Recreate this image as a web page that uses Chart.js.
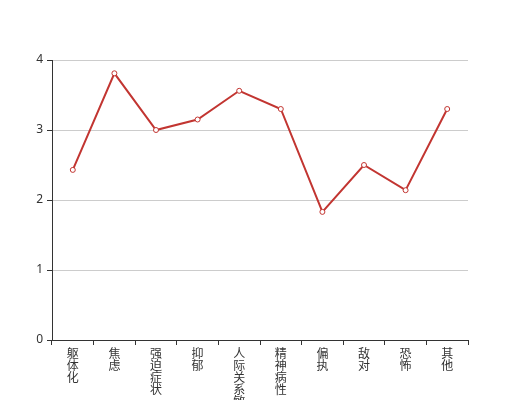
<!DOCTYPE html>
<html>
<head>
<meta charset="utf-8">
<script src="https://cdn.jsdelivr.net/npm/chart.js@4"></script>
<style>
  body { margin: 0; background: #fff; }
  #wrap { width: 520px; height: 400px; }
</style>
</head>
<body>
<div id="wrap"><canvas id="myChart"></canvas></div>
<script>
const categories = ["躯体化", "焦虑", "强迫症状", "抑郁", "人际关系敏感", "精神病性", "偏执", "敌对", "恐怖", "其他"];
const scores = [2.43, 3.81, 3.0, 3.15, 3.56, 3.30, 1.83, 2.50, 2.14, 3.30];
const yTicks = [0, 1, 2, 3, 4];

// split each name into single characters so they stack vertically
const labels = categories.map((c) => c.split(""));

const data = {
  labels: labels,
  datasets: [
    {
      data: scores,
      borderColor: "#c23531",
      borderWidth: 2,
      backgroundColor: "#fff",
      pointBackgroundColor: "#fff",
      pointBorderColor: "#c23531",
      pointBorderWidth: 1,
      pointRadius: 2.5,
      tension: 0,
    },
  ],
};

const config = {
  type: "line",
  data: data,
  options: {
    responsive: true,
    maintainAspectRatio: false,
    animation: false,
    layout: {
      padding: { top: 60, right: 52, left: 0, bottom: 0 },
    },
    scales: {
      x: {
        offset: true,
        border: { color: "#333", width: 1 },
        grid: {
          offset: true,
          drawOnChartArea: false,
          tickColor: "#333",
          tickLength: 5,
        },
        ticks: {
          color: "#333",
          padding: 2,
          maxRotation: 0,
          autoSkip: false,
          font: { size: 12, family: "'Noto Sans CJK SC', sans-serif", lineHeight: 1.0 },
        },
        afterFit: (scale) => {
          scale.height = 60;
        },
      },
      y: {
        min: 0,
        max: 4,
        border: { color: "#333", width: 1 },
        grid: {
          color: "#ccc",
          tickColor: "#333",
          tickLength: 5,
        },
        afterBuildTicks: (scale) => {
          scale.ticks = yTicks.map((v) => ({ value: v }));
        },
        ticks: {
          color: "#333",
          padding: 4,
          font: { size: 12, family: "'Noto Sans', sans-serif" },
        },
        afterFit: (scale) => {
          scale.width = 52;
        },
      },
    },
    plugins: {
      legend: { display: false },
      tooltip: { enabled: false },
    },
  },
};

const myChart = new Chart(document.getElementById("myChart"), config);
</script>
</body>
</html>
